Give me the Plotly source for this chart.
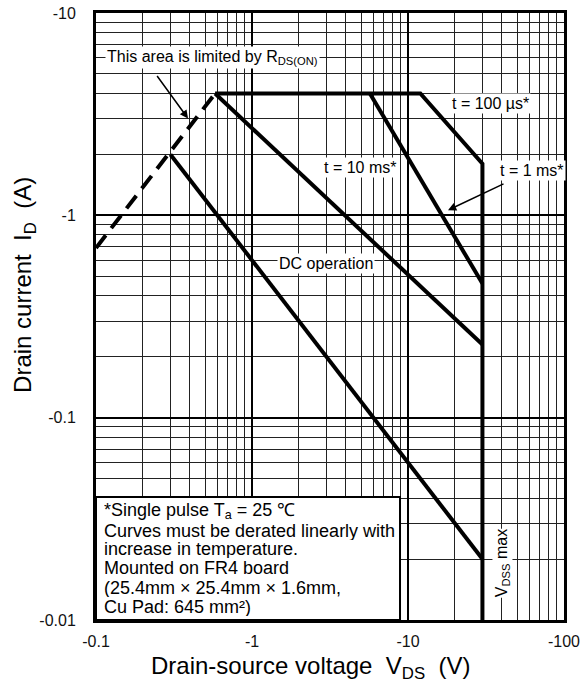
import math
import plotly.graph_objects as go

# Safe operating area, magnitudes of V_DS (V) and I_D (A); the axis labels carry the sign.
rds_on_v = [0.1, 0.58]
rds_on_i = [0.69, 4.0]

pulse_100us_v = [0.58, 12.0, 30.0, 30.0]
pulse_100us_i = [4.0, 4.0, 1.8, 0.01]

pulse_1ms_v = [5.7, 30.0]
pulse_1ms_i = [4.0, 0.46]

pulse_10ms_v = [0.58, 30.0]
pulse_10ms_i = [4.0, 0.23]

dc_v = [0.3, 30.0]
dc_i = [2.0, 0.02]

x_tick_vals = [0.1, 1, 10, 100]
x_tick_text = ["-0.1", "-1", "-10", "-100"]
y_tick_vals = [0.01, 0.1, 1, 10]
y_tick_text = ["-0.01", "-0.1", "-1", "-10"]

note_lines = [
    "*Single pulse T<sub>a</sub> = 25 ℃",
    "Curves must be derated linearly with",
    "increase in temperature.",
    "Mounted on FR4 board",
    "(25.4mm × 25.4mm × 1.6mm,",
    "Cu Pad: 645 mm²)",
]

FONT = "Liberation Sans, Arial, sans-serif"
L = math.log10


def minor_vals(lo_exp, hi_exp):
    return [k * 10.0 ** e for e in range(lo_exp, hi_exp) for k in range(2, 10)]


fig = go.Figure()
curve = dict(color="black", width=4)
fig.add_trace(go.Scatter(x=rds_on_v, y=rds_on_i, mode="lines",
                         line=dict(color="black", width=4, dash="16px,9px")))
fig.add_trace(go.Scatter(x=pulse_100us_v, y=pulse_100us_i, mode="lines", line=curve))
fig.add_trace(go.Scatter(x=pulse_1ms_v, y=pulse_1ms_i, mode="lines", line=curve))
fig.add_trace(go.Scatter(x=pulse_10ms_v, y=pulse_10ms_i, mode="lines", line=curve))
fig.add_trace(go.Scatter(x=dc_v, y=dc_i, mode="lines", line=curve))

axis_common = dict(
    type="log", automargin=False,
    showline=True, linecolor="black", linewidth=3, mirror=True,
    showgrid=True, gridcolor="black", gridwidth=2,
    zeroline=False, ticks="",
    tickfont=dict(family=FONT, size=16, color="#111"),
    tickmode="array",
)
fig.update_xaxes(
    **axis_common, range=[-1, 2], tickvals=x_tick_vals, ticktext=x_tick_text,
    ticklabelstandoff=5,
    minor=dict(tickmode="array", tickvals=minor_vals(-1, 2), showgrid=True,
               gridcolor="#222", gridwidth=1, ticks=""),
)
fig.update_yaxes(
    **axis_common, range=[-2, 1], tickvals=y_tick_vals, ticktext=y_tick_text,
    ticklabelstandoff=14,
    minor=dict(tickmode="array", tickvals=minor_vals(-2, 1), showgrid=True,
               gridcolor="#222", gridwidth=1, ticks=""),
)

ann = []
label_font = dict(family=FONT, size=16, color="black")
curve_labels = [
    ("This area is limited by R<sub>DS(ON)</sub>", 0.114, 6.06),
    ("t = 100 µs*", 18.6, 3.59),
    ("t = 10 ms*", 2.81, 1.73),
    ("t = 1 ms*", 37.8, 1.67),
    ("DC operation", 1.45, 0.58),
]
for text, v, i in curve_labels:
    ann.append(dict(text=text, x=L(v), y=L(i), xref="x", yref="y",
                    xanchor="left", yanchor="middle", showarrow=False,
                    bgcolor="white", borderpad=1, font=label_font))

ann.append(dict(text="V<sub>DSS</sub> max", x=L(40.1), y=L(0.0191), xref="x", yref="y",
                textangle=-90, xanchor="center", yanchor="middle", showarrow=False,
                bgcolor="white", borderpad=0, font=label_font))

# pointer arrows
for v, i, ax, ay in [(0.389, 3.01, -32, -44), (18.05, 1.06, 57, -27)]:
    ann.append(dict(text="", x=L(v), y=L(i), xref="x", yref="y", ax=ax, ay=ay,
                    showarrow=True, arrowhead=2, arrowsize=1.1, arrowwidth=1.5,
                    arrowcolor="black"))

# note box text, one annotation per line
note_y = [0.1800, 0.1466, 0.1165, 0.0852, 0.0522, 0.0219]
for line, y in zip(note_lines, note_y):
    ann.append(dict(text=line, x=0.0128, y=y, xref="paper", yref="paper",
                    xanchor="left", yanchor="middle", showarrow=False, height=18,
                    font=dict(family=FONT, size=18, color="black")))

# axis titles
ann.append(dict(text="Drain current\u00a0 I<sub>D</sub>\u00a0 (A)", x=-0.1517, y=0.552,
                xref="paper", yref="paper", textangle=-90, xanchor="center", yanchor="middle",
                showarrow=False, font=dict(family=FONT, size=24, color="black")))
ann.append(dict(text="Drain-source voltage\u00a0 V<sub>DS</sub>\u00a0 (V)", x=0.4583, y=-0.0775,
                xref="paper", yref="paper", xanchor="center", yanchor="middle",
                showarrow=False, font=dict(family=FONT, size=24, color="black")))

fig.update_layout(
    width=583, height=686,
    margin=dict(l=96, r=19, t=13, b=66, autoexpand=False),
    paper_bgcolor="white", plot_bgcolor="white",
    showlegend=False,
    annotations=ann,
    shapes=[dict(type="rect", xref="paper", yref="paper", x0=0, x1=0.6496, y0=0, y1=0.2026,
                 line=dict(color="black", width=2), fillcolor="white", layer="above")],
)

fig.write_html("out.html")
